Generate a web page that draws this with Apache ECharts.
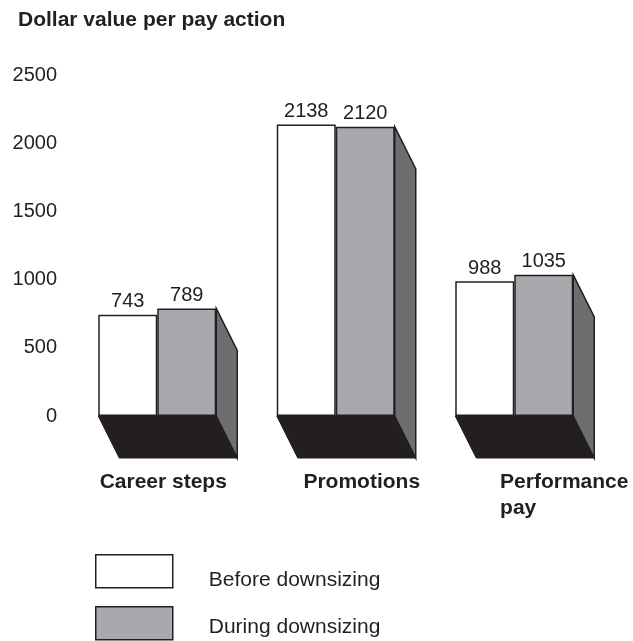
<!DOCTYPE html>
<html>
<head>
<meta charset="utf-8">
<script src="https://cdn.jsdelivr.net/npm/echarts@6/dist/echarts.min.js"></script>
<style>
html,body{margin:0;padding:0;background:#fff;}
#chart{width:633px;height:641px;}
</style>
</head>
<body>
<div id="chart"></div>
<script>
// data
var categories = ['Career steps', 'Promotions', 'Performance\npay'];
var beforeValues = [743, 2138, 988];
var duringValues = [789, 2120, 1035];
var seriesNames = ['Before downsizing', 'During downsizing'];
var yTicks = {min: 0, max: 2500, interval: 500};

var FONT = '"Liberation Sans", Arial, sans-serif';
var INK = '#231f20';
var BAR_W = 59;   // width of one bar
var DX = 21, DY = 42; // depth of the 3d faces
var labelShift = [12, 52, 100];
var colors = ['#fff', '#a7a9ac'];

function renderDepth(params, api){
	var idx = api.value(0);
	var top = api.coord([idx, api.value(1)]);
	var zero = api.coord([idx, 0]);
	var c = zero[0];
	var x0 = c - BAR_W, x1 = c + BAR_W, y0 = zero[1], yt = top[1];
	return {
		type:'group',
		children:[
			{type:'polygon', shape:{points:[[x0,y0],[x1,y0],[x1+DX,y0+DY],[x0+DX,y0+DY]]},
			 style:{fill:INK, stroke:INK, lineWidth:1}},
			{type:'polygon', shape:{points:[[x1,yt],[x1+DX,yt+DY],[x1+DX,y0+DY],[x1,y0]]},
			 style:{fill:'#6d6e70', stroke:INK, lineWidth:1.5}}
		]
	};
}

var rich = {};
labelShift.forEach(function(p, i){
	rich['c'+i] = {fontFamily:FONT, fontSize:21, fontWeight:'bold', color:INK, align:'left', lineHeight:26, padding:[0,0,0,p]};
});

function legendFor(i, top, padTop){
	return {
		left:95, top:top, padding:0,
		itemWidth:77, itemHeight:33,
		selectedMode:false,
		formatter:'{t|{name}}',
		textStyle:{
			rich:{t:{fontFamily:FONT, fontSize:21, color:INK, padding:[padTop,0,0,31]}}
		},
		data:[{name:seriesNames[i], icon:'rect', itemStyle:{color:colors[i], borderColor:INK, borderWidth:1.5}}]
	};
}

var myChart = echarts.init(document.getElementById('chart'));
var option = {
	animation:false,
	title:{
		text:'Dollar value per pay action',
		left:13, top:5,
		textStyle:{fontFamily:FONT, fontSize:21, fontWeight:'bold', color:INK}
	},
	grid:{left:68, width:535.5, top:75, bottom:225},
	legend:[legendFor(0, 554, 18), legendFor(1, 606, 8)],
	xAxis:{
		type:'category',
		data:categories,
		axisLine:{show:false},
		axisTick:{show:false},
		axisLabel:{
			margin:53,
			interval:0,
			formatter:function(v, i){
				return v.split('\n').map(function(s){ return '{c'+i+'|'+s+'}'; }).join('\n');
			},
			rich:rich
		}
	},
	yAxis:{
		type:'value',
		min:yTicks.min, max:yTicks.max, interval:yTicks.interval,
		splitLine:{show:false},
		axisLine:{show:false},
		axisTick:{show:false},
		axisLabel:{margin:11, fontFamily:FONT, fontSize:20, color:INK, formatter:function(v){ return String(v); }}
	},
	series:[
		{
			name:seriesNames[0], type:'bar', data:beforeValues,
			barWidth:BAR_W, barGap:'0%',
			itemStyle:{color:colors[0], borderColor:INK, borderWidth:1.5},
			label:{show:true, position:'top', distance:3, fontFamily:FONT, fontSize:20, color:INK}
		},
		{
			name:seriesNames[1], type:'bar', data:duringValues,
			barWidth:BAR_W, barGap:'0%',
			itemStyle:{color:colors[1], borderColor:INK, borderWidth:1.5},
			label:{show:true, position:'top', distance:3, fontFamily:FONT, fontSize:20, color:INK}
		},
		{
			name:'depth', type:'custom', renderItem:renderDepth,
			data:duringValues.map(function(v, i){ return [i, v]; }),
			encode:{x:0, y:1},
			silent:true, z:1
		}
	]
};
myChart.setOption(option);
window.onresize = myChart.resize;
</script>
</body>
</html>
